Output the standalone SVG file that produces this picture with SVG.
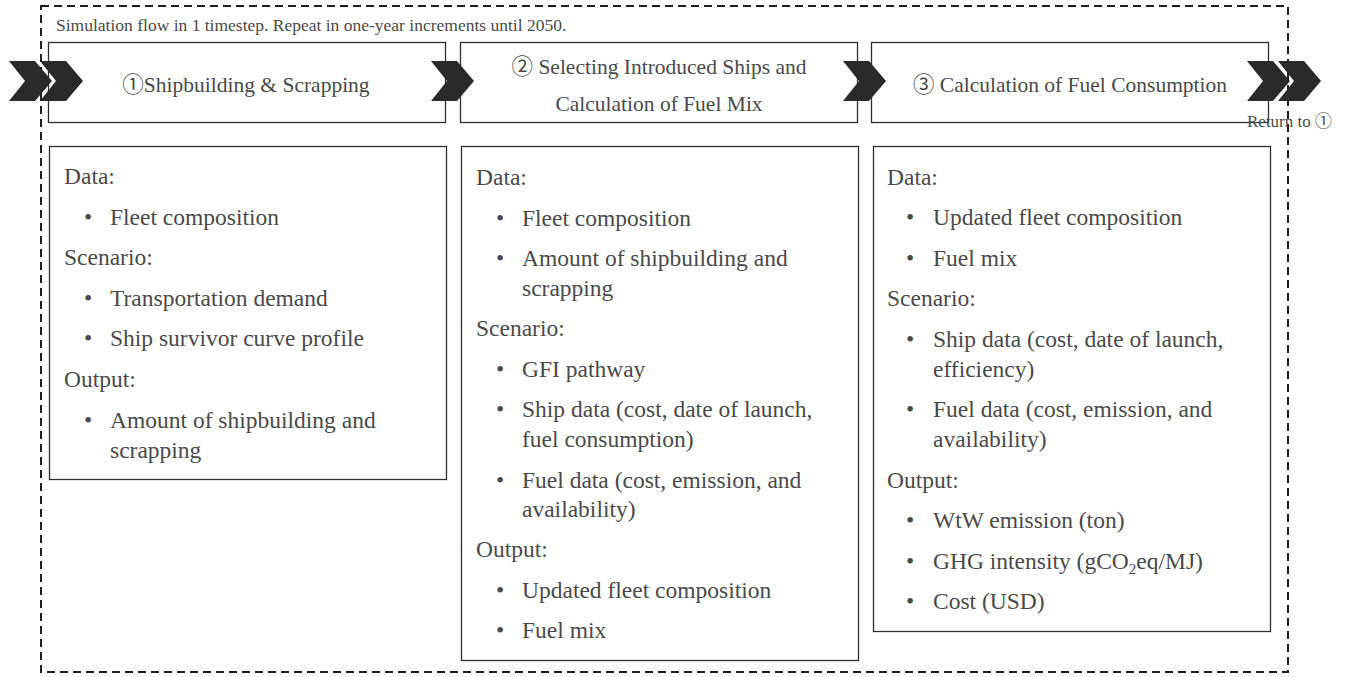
<svg xmlns="http://www.w3.org/2000/svg" width="1354" height="677" viewBox="0 0 1354 677">
<style>
  text { font-family: "Liberation Serif", "Noto Sans CJK JP", serif; fill: #4a4a4a; }
  .title { font-size: 17.5px; }
  .head { font-size: 21.5px; text-anchor: middle; }
  .body { font-size: 23.5px; }
  .bul { font-size: 23.5px; text-anchor: middle; }
  .ret { font-size: 17px; }
  .box { fill: #ffffff; stroke: #2e2e2e; stroke-width: 1.3; }
  .chev { fill: #2a2a2a; }
  .frame { fill: none; stroke: #1f1f1f; stroke-width: 2; stroke-dasharray: 8 5; }
</style>
<defs>
  <polygon id="chevron" points="0,0 26,0 43,20 26,40 0,40 16,20"/>
</defs>
<rect width="1354" height="677" fill="#ffffff"/>
<g id="frame">
  <rect class="frame" x="41" y="6" width="1247" height="666"/>
  <text class="title" x="56" y="31">Simulation flow in 1 timestep. Repeat in one-year increments until 2050.</text>
</g>
<g id="step1">
  <rect class="box" x="48.5" y="42.5" width="397" height="80"/>
  <text class="head" x="246" y="92">①Shipbuilding &amp; Scrapping</text>
</g>
<g id="step2">
  <rect class="box" x="460.5" y="42.5" width="397" height="80"/>
  <text class="head" x="659" y="74">② Selecting Introduced Ships and</text>
  <text class="head" x="659" y="111">Calculation of Fuel Mix</text>
</g>
<g id="step3">
  <rect class="box" x="871.5" y="42.5" width="397" height="80"/>
  <text class="head" x="1070" y="92">③ Calculation of Fuel Consumption</text>
</g>
<g id="detail1">
  <rect class="box" x="49.5" y="146.5" width="397" height="333"/>
  <text class="body" x="64" y="184">Data:</text>
  <text class="bul" x="88" y="224.6">•</text><text class="body" x="110" y="224.6">Fleet composition</text>
  <text class="body" x="64" y="265.2">Scenario:</text>
  <text class="bul" x="88" y="305.8">•</text><text class="body" x="110" y="305.8">Transportation demand</text>
  <text class="bul" x="88" y="346.4">•</text><text class="body" x="110" y="346.4">Ship survivor curve profile</text>
  <text class="body" x="64" y="387">Output:</text>
  <text class="bul" x="88" y="427.6">•</text><text class="body" x="110" y="427.6">Amount of shipbuilding and</text>
  <text class="body" x="110" y="457.6">scrapping</text>
</g>
<g id="detail2">
  <rect class="box" x="461.5" y="146.5" width="397" height="514"/>
  <text class="body" x="476" y="185">Data:</text>
  <text class="bul" x="500" y="225.6">•</text><text class="body" x="522" y="225.6">Fleet composition</text>
  <text class="bul" x="500" y="266.2">•</text><text class="body" x="522" y="266.2">Amount of shipbuilding and</text>
  <text class="body" x="522" y="296.2">scrapping</text>
  <text class="body" x="476" y="336.4">Scenario:</text>
  <text class="bul" x="500" y="376.8">•</text><text class="body" x="522" y="376.8">GFI pathway</text>
  <text class="bul" x="500" y="417.4">•</text><text class="body" x="522" y="417.4">Ship data (cost, date of launch,</text>
  <text class="body" x="522" y="447">fuel consumption)</text>
  <text class="bul" x="500" y="487.6">•</text><text class="body" x="522" y="487.6">Fuel data (cost, emission, and</text>
  <text class="body" x="522" y="517">availability)</text>
  <text class="body" x="476" y="557.4">Output:</text>
  <text class="bul" x="500" y="598">•</text><text class="body" x="522" y="598">Updated fleet composition</text>
  <text class="bul" x="500" y="638.4">•</text><text class="body" x="522" y="638.4">Fuel mix</text>
</g>
<g id="detail3">
  <rect class="box" x="873.5" y="146.5" width="397" height="485"/>
  <text class="body" x="887" y="184.5">Data:</text>
  <text class="bul" x="910" y="225">•</text><text class="body" x="933" y="225">Updated fleet composition</text>
  <text class="bul" x="910" y="265.6">•</text><text class="body" x="933" y="265.6">Fuel mix</text>
  <text class="body" x="887" y="306.2">Scenario:</text>
  <text class="bul" x="910" y="346.8">•</text><text class="body" x="933" y="346.8">Ship data (cost, date of launch,</text>
  <text class="body" x="933" y="376.6">efficiency)</text>
  <text class="bul" x="910" y="417.2">•</text><text class="body" x="933" y="417.2">Fuel data (cost, emission, and</text>
  <text class="body" x="933" y="447">availability)</text>
  <text class="body" x="887" y="487.6">Output:</text>
  <text class="bul" x="910" y="528.2">•</text><text class="body" x="933" y="528.2">WtW emission (ton)</text>
  <text class="bul" x="910" y="568.8">•</text><text class="body" x="933" y="568.8">GHG intensity (gCO<tspan font-size="15" dy="5">2</tspan><tspan dy="-5">eq/MJ)</tspan></text>
  <text class="bul" x="910" y="609.4">•</text><text class="body" x="933" y="609.4">Cost (USD)</text>
</g>
<g id="connectors">
  <use href="#chevron" class="chev" x="9" y="61"/>
  <use href="#chevron" class="chev" x="40" y="61"/>
  <use href="#chevron" class="chev" x="431" y="61"/>
  <use href="#chevron" class="chev" x="843" y="61"/>
  <use href="#chevron" class="chev" x="1247" y="61"/>
  <use href="#chevron" class="chev" x="1278" y="61"/>
  <text class="ret" x="1247" y="127">Return to ①</text>
</g>
</svg>
